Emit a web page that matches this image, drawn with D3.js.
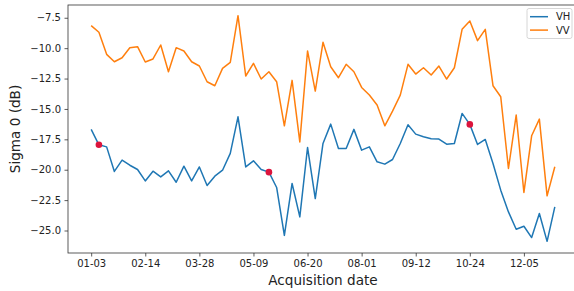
<!DOCTYPE html>
<html>
<head>
<meta charset="utf-8">
<script src="https://cdn.jsdelivr.net/npm/d3@7"></script>
<style>
  body { margin: 0; background: #fff; }
  svg { display: block; font-family: "DejaVu Sans", sans-serif; }
</style>
</head>
<body>
<svg id="chart"></svg>
<script>
// acquisition dates (month-day), one every 6 days
const dates = [
  "01-03", "01-09", "01-15", "01-21", "01-27", "02-02", "02-08", "02-14", "02-20", "02-26",
  "03-04", "03-10", "03-16", "03-22", "03-28", "04-03", "04-09", "04-15", "04-21", "04-27",
  "05-03", "05-09", "05-15", "05-21", "05-27", "06-02", "06-08", "06-14", "06-20", "06-26",
  "07-02", "07-08", "07-14", "07-20", "07-26", "08-01", "08-07", "08-13", "08-19", "08-25",
  "08-31", "09-06", "09-12", "09-18", "09-24", "09-30", "10-06", "10-12", "10-18", "10-24",
  "10-30", "11-05", "11-11", "11-17", "11-23", "11-29", "12-05", "12-11", "12-17", "12-23",
  "12-29"
];

const vh = [
  -16.68, -17.95, -18.12, -20.14, -19.21, -19.63, -19.98, -20.92, -20.12, -20.59,
  -20.09, -21.03, -19.71, -20.92, -19.77, -21.30, -20.53, -20.04, -18.66, -15.65,
  -19.77, -19.27, -19.98, -20.20, -21.46, -25.40, -21.13, -23.88, -18.17, -22.37,
  -17.84, -16.25, -18.25, -18.25, -16.68, -18.39, -18.12, -19.35, -19.54, -19.16,
  -17.84, -16.30, -17.07, -17.29, -17.46, -17.48, -17.90, -17.84, -15.37, -16.27,
  -17.92, -17.51, -19.49, -21.68, -23.47, -24.90, -24.65, -25.58, -23.60, -25.89,
  -23.06
];

const vv = [
  -8.15, -8.69, -10.51, -11.12, -10.79, -9.96, -9.88, -11.14, -10.89, -9.74,
  -11.94, -9.96, -10.23, -11.12, -11.47, -12.76, -13.09, -11.66, -11.17, -7.33,
  -12.29, -11.25, -12.54, -11.94, -12.76, -16.39, -12.65, -17.71, -10.23, -13.53,
  -9.52, -11.53, -12.43, -11.33, -11.94, -13.23, -13.86, -14.68, -16.39, -15.18,
  -13.86, -11.33, -12.13, -11.61, -12.21, -11.47, -12.54, -11.61, -8.45, -7.76,
  -9.38, -8.45, -13.09, -14.00, -19.90, -15.50, -21.87, -17.21, -15.84, -22.15,
  -19.76
];

// highlighted VH acquisitions
const markedDates = ["01-09", "05-21", "10-24"];

// x tick labels
const xTicks = ["01-03", "02-14", "03-28", "05-09", "06-20", "08-01", "09-12", "10-24", "12-05"];
const yTicks = [-25.0, -22.5, -20.0, -17.5, -15.0, -12.5, -10.0, -7.5];

const width = 574;
const height = 291;
const margin = { left: 68, top: 5, right: -4, bottom: 38 };

const parse = s => d3.timeParse("%Y-%m-%d")("2019-" + s);
const fmtMinus = v => v.toFixed(1).replace("-", "\u2212");

const svg = d3.select("#chart")
    .attr("width", width)
    .attr("height", height);

const x0 = parse(dates[0]);
const x1 = parse(dates[dates.length - 1]);

// matplotlib style 5% margins on both axes
const x = d3.scaleTime()
    .domain([d3.timeDay.offset(x0, -18), d3.timeDay.offset(x1, 18)])
    .range([margin.left, width - margin.right]);

const y = d3.scaleLinear()
    .domain([-26.85, -6.45])
    .range([height - margin.bottom, margin.top]);

const plotW = width - margin.right - margin.left;
const plotH = height - margin.bottom - margin.top;

// frame
svg.append("rect")
    .attr("x", margin.left)
    .attr("y", margin.top)
    .attr("width", plotW)
    .attr("height", plotH)
    .attr("fill", "none")
    .attr("stroke", "#333")
    .attr("stroke-width", 0.8);

// axes
const xAxis = svg.append("g")
    .attr("transform", `translate(0,${height - margin.bottom})`)
    .call(d3.axisBottom(x)
        .tickValues(xTicks.map(parse))
        .tickFormat(d3.timeFormat("%m-%d"))
        .tickSize(3.5)
        .tickPadding(3.5));

const yAxis = svg.append("g")
    .attr("transform", `translate(${margin.left},0)`)
    .call(d3.axisLeft(y)
        .tickValues(yTicks)
        .tickFormat(fmtMinus)
        .tickSize(3.5)
        .tickPadding(3.5));

[xAxis, yAxis].forEach(a => {
    a.select(".domain").remove();
    a.selectAll(".tick line").attr("stroke", "#333").attr("stroke-width", 0.8);
    a.selectAll(".tick text")
        .style("font-family", "DejaVu Sans")
        .style("font-size", "10px")
        .attr("fill", "#222");
});

// axis labels
svg.append("text")
    .attr("x", margin.left + plotW / 2)
    .attr("y", 285)
    .attr("text-anchor", "middle")
    .style("font-size", "13.6px")
    .attr("fill", "#222")
    .text("Acquisition date");

svg.append("text")
    .attr("transform", `translate(20,${margin.top + plotH / 2}) rotate(-90)`)
    .attr("text-anchor", "middle")
    .style("font-size", "13.6px")
    .attr("fill", "#222")
    .text("Sigma 0 (dB)");

// lines
const series = [
    { name: "VH", values: vh, color: "#1f77b4" },
    { name: "VV", values: vv, color: "#ff7f0e" }
];

const line = d3.line()
    .x((d, i) => x(parse(dates[i])))
    .y(d => y(d));

svg.selectAll("path.series")
    .data(series)
    .join("path")
    .attr("class", "series")
    .attr("d", d => line(d.values))
    .attr("fill", "none")
    .attr("stroke", d => d.color)
    .attr("stroke-width", 1.5)
    .attr("stroke-linejoin", "round");

// red markers on VH
svg.selectAll("circle.mark")
    .data(markedDates)
    .join("circle")
    .attr("class", "mark")
    .attr("cx", d => x(parse(d)))
    .attr("cy", d => y(vh[dates.indexOf(d)]))
    .attr("r", 3.3)
    .attr("fill", "#dc143c");

// legend
const legend = svg.append("g")
    .attr("transform", "translate(527,8.5)");

legend.append("rect")
    .attr("width", 45)
    .attr("height", 30)
    .attr("rx", 2)
    .attr("fill", "rgba(255,255,255,0.8)")
    .attr("stroke", "#ccc")
    .attr("stroke-width", 0.8);

series.forEach((s, i) => {
    const row = legend.append("g")
        .attr("transform", `translate(0,${8.2 + i * 13.4})`);
    row.append("line")
        .attr("x1", 3)
        .attr("x2", 21)
        .attr("stroke", s.color)
        .attr("stroke-width", 1.5);
    row.append("text")
        .attr("x", 29)
        .attr("y", 3.6)
        .style("font-size", "10px")
        .attr("fill", "#222")
        .text(s.name);
});
</script>
</body>
</html>
